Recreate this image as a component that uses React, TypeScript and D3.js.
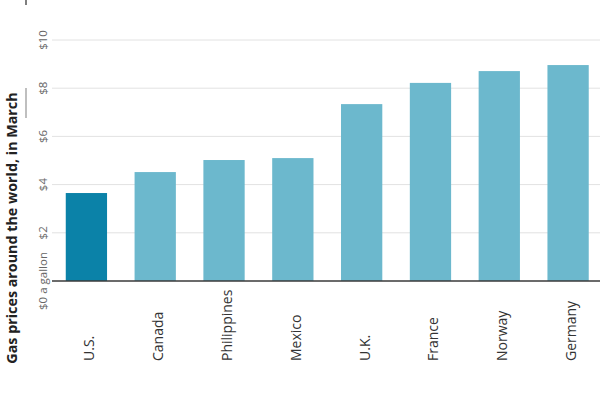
import React from "react";
import * as d3 from "d3";

const countries = ["U.S.", "Canada", "Philippines", "Mexico", "U.K.", "France", "Norway", "Germany"];
const prices = [3.65, 4.52, 5.02, 5.1, 7.34, 8.22, 8.71, 8.96];
const yTicks = [0, 2, 4, 6, 8, 10];
const yTickLabels = ["$0 a gallon", "$2", "$4", "$6", "$8", "$10"];
const title = "Gas prices around the world, in March";

const W = 600;
const H = 393;
const plotLeft = 52;
const plotRight = 602.5;
const yTop = 40;
const yBottom = 281;

export default function App() {
  const x = d3
    .scaleBand<string>()
    .domain(countries)
    .range([plotLeft, plotRight])
    .paddingInner(0.4)
    .paddingOuter(0.2);
  const y = d3.scaleLinear().domain([0, 10]).range([yBottom, yTop]);

  return (
    <svg
      width={W}
      height={H}
      style={{ position: "absolute", left: 0, top: 0, background: "#fff", fontFamily: "'Open Sans', sans-serif" }}
    >
      <rect width={W} height={H} fill="#fff" />
      <line x1={26} x2={26} y1={0} y2={5} stroke="#555" strokeWidth={1.5} />
      <line x1={26} x2={26} y1={88} y2={118} stroke="#aaa" strokeWidth={1.5} />
      {yTicks.map((t) =>
        t === 0 ? null : (
          <line key={"g" + t} x1={plotLeft} x2={W} y1={y(t)} y2={y(t)} stroke="#e2e2e2" strokeWidth={1} />
        )
      )}
      {yTicks.map((t, i) => (
        <text
          key={"yl" + t}
          transform={`translate(43,${y(t)}) rotate(-90)`}
          textAnchor="middle"
          dy="0.35em"
          fontSize={11.5}
          fill="#666"
        >
          {yTickLabels[i]}
        </text>
      ))}
      {countries.map((c, i) => (
        <rect
          key={c}
          x={x(c)}
          y={y(prices[i])}
          width={x.bandwidth()}
          height={y(0) - y(prices[i])}
          fill={i === 0 ? "#0b82a8" : "#6cb8cd"}
        />
      ))}
      <line x1={plotLeft} x2={W} y1={y(0)} y2={y(0)} stroke="#3a3a3a" strokeWidth={1.5} />
      {countries.map((c) => (
        <text
          key={"xl" + c}
          transform={`translate(${(x(c) as number) + x.bandwidth() / 2 + 3},361) rotate(-90)`}
          textAnchor="start"
          dy="0.35em"
          fontSize={14}
          fill="#333"
        >
          {c}
        </text>
      ))}
      <text
        transform={`translate(12,228) rotate(-90)`}
        textAnchor="middle"
        dy="0.35em"
        fontSize={14.3}
        fontWeight="bold"
        fill="#222"
      >
        {title}
      </text>
    </svg>
  );
}
